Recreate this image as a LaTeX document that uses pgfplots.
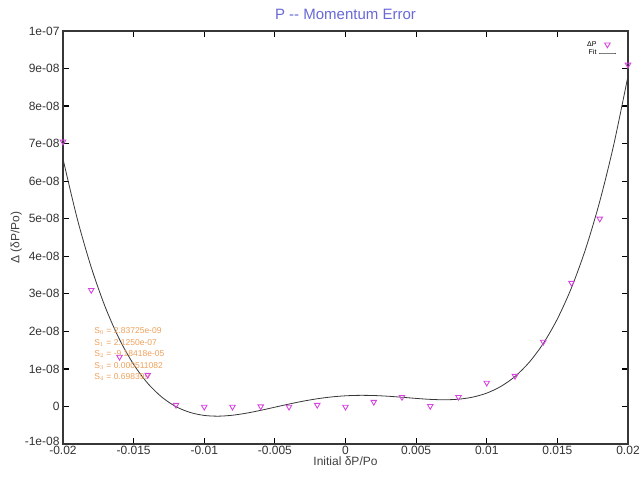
\documentclass[border=0pt]{standalone}
\usepackage{fontspec}
\setmainfont{Liberation Sans}
\usepackage{pgfplots}
\pgfplotsset{compat=1.18}
\definecolor{titleblue}{RGB}{104,104,214}
\definecolor{ptmag}{RGB}{214,70,222}
\definecolor{annor}{RGB}{238,160,90}
\definecolor{framegray}{RGB}{55,55,55}
\begin{document}
\begin{tikzpicture}
\begin{axis}[
  scale only axis,
  width=565pt, height=413pt,
  xmin=-0.02, xmax=0.02, ymin=-1e-8, ymax=1e-7,
  axis line style={framegray, line width=2.2pt},
  tick style={black, line width=1.2pt},
  major tick length=6pt,
  tick align=inside,
  xtick={-0.02,-0.015,-0.01,-0.005,0,0.005,0.01,0.015,0.02},
  xticklabels={-0.02,-0.015,-0.01,-0.005,0,0.005,0.01,0.015,0.02},
  ytick={-1e-8,0,1e-8,2e-8,3e-8,4e-8,5e-8,6e-8,7e-8,8e-8,9e-8,1e-7},
  yticklabels={\raisebox{5pt}{-1e-08},0,1e-08,2e-08,3e-08,4e-08,5e-08,6e-08,7e-08,8e-08,9e-08,1e-07},
  scaled ticks=false,
  ticklabel style={font=\fontsize{12}{14}\selectfont, text=black!80},
  xticklabel style={yshift=1pt},
  title={P -{}- Momentum Error},
  title style={font=\fontsize{15}{18}\selectfont, text=titleblue, yshift=2pt},
  xlabel={Initial δP/Po},
  ylabel={Δ (δP/Po)},
  label style={font=\fontsize{12}{14}\selectfont, text=black!75},
  xlabel style={yshift=5pt},
  ylabel style={yshift=-4pt},
  legend style={draw=none, fill=none, at={(0.985,0.985)}, anchor=north east, font=\fontsize{7}{8}\selectfont, row sep=-2pt},
  legend plot pos=right,
  legend cell align=right,
]
\addplot[only marks, mark=triangle, mark size=3.2pt, ptmag, line width=0.9pt, every mark/.append style={rotate=180}] coordinates {
(-0.020,7.05e-8) (-0.018,3.10e-8) (-0.016,1.32e-8) (-0.014,0.84e-8)
(-0.012,0.04e-8) (-0.010,-0.01e-8) (-0.008,-0.01e-8) (-0.006,0.0e-8)
(-0.004,-0.01e-8) (-0.002,0.04e-8) (0.000,-0.01e-8) (0.002,0.12e-8)
(0.004,0.25e-8) (0.006,0.01e-8) (0.008,0.25e-8) (0.010,0.63e-8)
(0.012,0.81e-8) (0.014,1.72e-8) (0.016,3.29e-8) (0.018,5.00e-8)
(0.020,9.10e-8)
};
\addlegendentry{ΔP}
\addplot[framegray, line width=0.8pt, smooth, mark=none] coordinates {
(-0.020,65.931e-9) (-0.019,50.128e-9) (-0.018,37.047e-9) (-0.017,26.387e-9)
(-0.016,17.861e-9) (-0.015,11.200e-9) (-0.014,6.151e-9) (-0.013,2.479e-9)
(-0.012,-0.057e-9) (-0.011,-1.598e-9) (-0.010,-2.392e-9) (-0.009,-2.587e-9)
(-0.008,-2.337e-9) (-0.007,-1.778e-9) (-0.006,-1.030e-9) (-0.005,-0.195e-9)
(-0.004,0.641e-9) (-0.003,1.406e-9) (-0.002,2.049e-9) (-0.001,2.533e-9)
(0.000,2.837e-9) (0.001,2.959e-9) (0.002,2.913e-9) (0.003,2.727e-9)
(0.004,2.449e-9) (0.005,2.143e-9) (0.006,1.888e-9) (0.007,1.780e-9)
(0.008,1.933e-9) (0.009,2.477e-9) (0.010,3.558e-9) (0.011,5.339e-9)
(0.012,7.981e-9) (0.013,11.739e-9) (0.014,16.766e-9) (0.015,23.312e-9)
(0.016,31.624e-9) (0.017,41.964e-9) (0.018,54.611e-9) (0.019,69.863e-9)
(0.020,88.031e-9)
};
\addlegendentry{Fit}
\node[anchor=north west, align=left, text=annor, font=\fontsize{8.5}{11.5}\selectfont, inner sep=0pt] at (axis cs:-0.0178,2.1e-8) {S$_0$ = 2.83725e-09\\S$_1$ = 2.1250e-07\\S$_2$ = -9.18418e-05\\S$_3$ = 0.000511082\\S$_4$ = 0.698399};
\draw[framegray, line width=2pt] (rel axis cs:0,0) rectangle (rel axis cs:1,1);
\end{axis}
\pgfresetboundingbox
\path (-63pt,-36pt) rectangle (579pt,444pt);
\end{tikzpicture}
\end{document}
